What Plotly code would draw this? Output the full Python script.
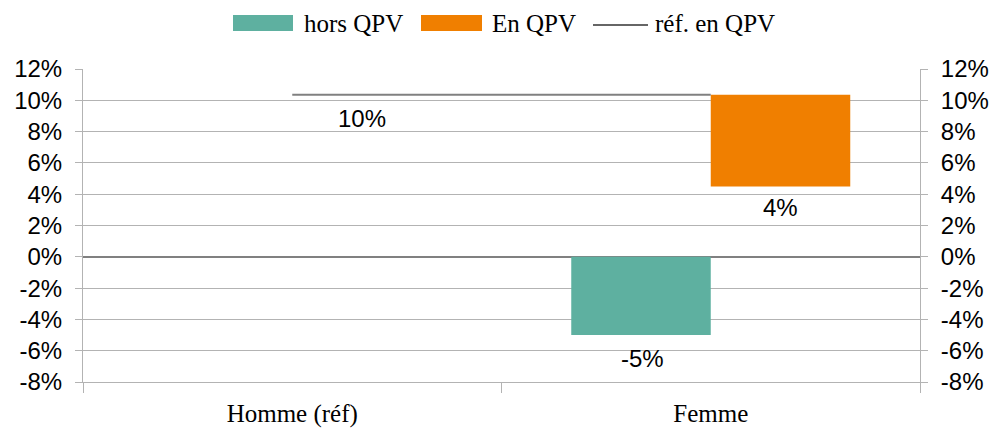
import plotly.graph_objects as go

categories = ["Homme (réf)", "Femme"]
hors_qpv = [None, -5.0]
en_qpv = [None, 4.5]
ref_en_qpv = [10.35, 10.35]
hors_labels = [None, "-5%"]
en_labels = [None, "4%"]
ref_label = "10%"
tick_vals = [-8, -6, -4, -2, 0, 2, 4, 6, 8, 10, 12]
tick_text = ["-8%", "-6%", "-4%", "-2%", "0%", "2%", "4%", "6%", "8%", "10%", "12%"]

TEAL = "#5eb0a0"
ORANGE = "#f07f00"
GRID = "#b3b3b3"
SANS = "Liberation Sans"
SERIF = "Liberation Serif"

fig = go.Figure()

fig.add_trace(go.Bar(
    x=categories, y=hors_qpv, name="hors QPV",
    marker=dict(color=TEAL, line=dict(width=0)), showlegend=False,
))
en_base = [None if v is None else r for v, r in zip(en_qpv, ref_en_qpv)]
en_len = [None if v is None else v - r for v, r in zip(en_qpv, ref_en_qpv)]
fig.add_trace(go.Bar(
    x=categories, y=en_len, base=en_base, name="En QPV",
    marker=dict(color=ORANGE, line=dict(width=0)), showlegend=False,
))
fig.add_trace(go.Scatter(
    x=categories, y=ref_en_qpv, mode="lines", name="réf. en QPV",
    line=dict(color="#808080", width=2), showlegend=False,
))
# dummy trace to show right axis
fig.add_trace(go.Scatter(x=[categories[0]], y=[None], yaxis="y2",
                         showlegend=False, hoverinfo="skip"))

# data labels
for c, v, t in zip(categories, hors_qpv, hors_labels):
    if v is not None:
        fig.add_annotation(x=c, y=v, text=t, showarrow=False, yanchor="top",
                           xshift=-68, yshift=-8, font=dict(family=SANS, size=24, color="#000"))
for c, v, t in zip(categories, en_qpv, en_labels):
    if v is not None:
        fig.add_annotation(x=c, y=v, text=t, showarrow=False, yanchor="top",
                           xshift=70, yshift=-6, font=dict(family=SANS, size=24, color="#000"))
fig.add_annotation(x=categories[0], y=ref_en_qpv[0], text=ref_label, showarrow=False,
                   yanchor="top", xshift=70, yshift=-8,
                   font=dict(family=SANS, size=24, color="#000"))

# manual legend (paper coords)
def px_x(p):
    return (p - 83) / 837.0

def px_y(p):
    return (382 - p) / 313.0

legend_items = [
    ("rect", TEAL, 233, 293, "hors QPV", 302),
    ("rect", ORANGE, 421, 482, "En QPV", 490),
    ("line", "#333333", 593, 648, "réf. en QPV", 653),
]
for kind, col, x0, x1, label, tx in legend_items:
    if kind == "rect":
        fig.add_shape(type="rect", xref="paper", yref="paper",
                      x0=px_x(x0), x1=px_x(x1), y0=px_y(31), y1=px_y(15),
                      fillcolor=col, line=dict(width=0))
    else:
        fig.add_shape(type="line", xref="paper", yref="paper",
                      x0=px_x(x0), x1=px_x(x1), y0=px_y(25), y1=px_y(25),
                      line=dict(color=col, width=1.3))
    fig.add_annotation(xref="paper", yref="paper", x=px_x(tx), y=px_y(23),
                       text=label, showarrow=False, xanchor="left", yanchor="middle",
                       font=dict(family=SERIF, size=25, color="#000"))

yaxis_common = dict(
    range=[-8, 12], tickvals=tick_vals, ticktext=tick_text,
    ticks="outside", ticklen=7, tickcolor=GRID, tickwidth=1,
    showline=True, linecolor=GRID, linewidth=1,
    tickfont=dict(family=SANS, size=24, color="#000"),
    ticklabelstandoff=8, automargin=False,
)

fig.update_layout(
    width=1005, height=430,
    margin=dict(l=83, r=85, t=69, b=48, autoexpand=False),
    paper_bgcolor="white", plot_bgcolor="white",
    barmode="group", bargap=1/3, bargroupgap=0,
    showlegend=False,
    xaxis=dict(
        type="category", showgrid=False, showline=True, linecolor=GRID,
        ticks="outside", tickson="boundaries", ticklen=10, tickcolor=GRID,
        tickfont=dict(family=SERIF, size=25, color="#000"),
        zeroline=False, automargin=False, ticklabelstandoff=9,
    ),
    yaxis=dict(
        **yaxis_common, side="left",
        showgrid=True, gridcolor=GRID, gridwidth=1,
        zeroline=True, zerolinecolor="#808080", zerolinewidth=1.5,
    ),
    yaxis2=dict(
        **yaxis_common, side="right", overlaying="y",
        showgrid=False, zeroline=False,
    ),
)

fig.write_html("out.html", config={"displayModeBar": False},
               post_script="document.body.style.margin='0';")
